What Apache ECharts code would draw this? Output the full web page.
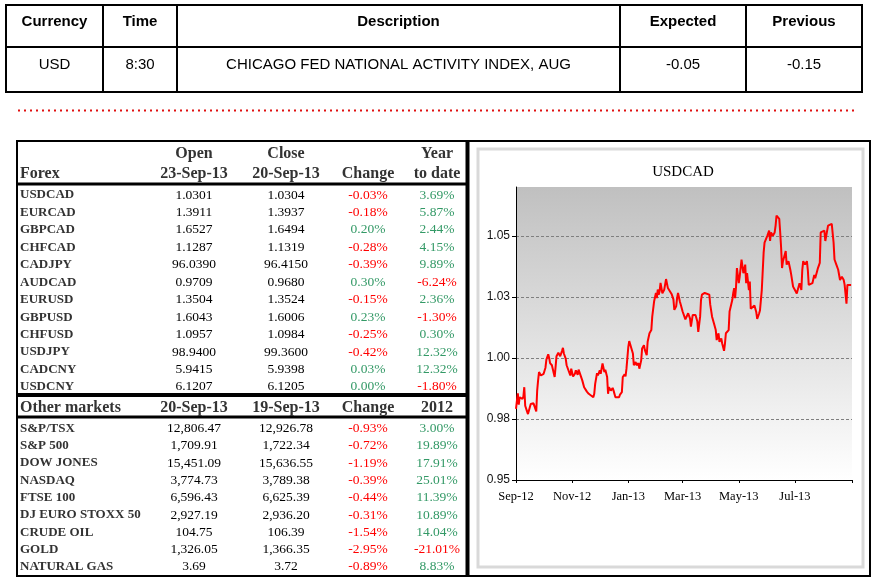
<!DOCTYPE html>
<html>
<head>
<meta charset="utf-8">
<script src="https://cdn.jsdelivr.net/npm/echarts@6/dist/echarts.min.js"></script>
<style>
  html, body { margin: 0; padding: 0; background: #ffffff; }
  #chart { width: 881px; height: 584px; }
</style>
</head>
<body>
<div id="chart"></div>
<script>
// ---------------- DATA ----------------
const topHeaders = ['Currency', 'Time', 'Description', 'Expected', 'Previous'];
const topRow = ['USD', '8:30', 'CHICAGO FED NATIONAL ACTIVITY INDEX, AUG', '-0.05', '-0.15'];

const forexHeader1 = ['', 'Open', 'Close', '', 'Year'];
const forexHeader2 = ['Forex', '23-Sep-13', '20-Sep-13', 'Change', 'to date'];
const forexRows = [
  ['USDCAD', '1.0301', '1.0304', '-0.03%', '3.69%'],
  ['EURCAD', '1.3911', '1.3937', '-0.18%', '5.87%'],
  ['GBPCAD', '1.6527', '1.6494', '0.20%', '2.44%'],
  ['CHFCAD', '1.1287', '1.1319', '-0.28%', '4.15%'],
  ['CADJPY', '96.0390', '96.4150', '-0.39%', '9.89%'],
  ['AUDCAD', '0.9709', '0.9680', '0.30%', '-6.24%'],
  ['EURUSD', '1.3504', '1.3524', '-0.15%', '2.36%'],
  ['GBPUSD', '1.6043', '1.6006', '0.23%', '-1.30%'],
  ['CHFUSD', '1.0957', '1.0984', '-0.25%', '0.30%'],
  ['USDJPY', '98.9400', '99.3600', '-0.42%', '12.32%'],
  ['CADCNY', '5.9415', '5.9398', '0.03%', '12.32%'],
  ['USDCNY', '6.1207', '6.1205', '0.00%', '-1.80%']
];

const otherHeader = ['Other markets', '20-Sep-13', '19-Sep-13', 'Change', '2012'];
const otherRows = [
  ['S&P/TSX', '12,806.47', '12,926.78', '-0.93%', '3.00%'],
  ['S&P 500', '1,709.91', '1,722.34', '-0.72%', '19.89%'],
  ['DOW JONES', '15,451.09', '15,636.55', '-1.19%', '17.91%'],
  ['NASDAQ', '3,774.73', '3,789.38', '-0.39%', '25.01%'],
  ['FTSE 100', '6,596.43', '6,625.39', '-0.44%', '11.39%'],
  ['DJ EURO STOXX 50', '2,927.19', '2,936.20', '-0.31%', '10.89%'],
  ['CRUDE OIL', '104.75', '106.39', '-1.54%', '14.04%'],
  ['GOLD', '1,326.05', '1,366.35', '-2.95%', '-21.01%'],
  ['NATURAL GAS', '3.69', '3.72', '-0.89%', '8.83%']
];

const chartTitle = 'USDCAD';
const xTickDates = ['2012-09-21', '2012-11-21', '2013-01-21', '2013-03-21', '2013-05-21', '2013-07-21', '2013-09-21'];
const xTickLabels = ['Sep-12', 'Nov-12', 'Jan-13', 'Mar-13', 'May-13', 'Jul-13', ''];
const yTickValues = [0.95, 0.975, 1.0, 1.025, 1.05];

const usdcad = [
  ['2012-09-21',0.9791],['2012-09-22',0.9825],['2012-09-23',0.9855],['2012-09-24',0.9809],['2012-09-25',0.9839],
  ['2012-09-26',0.9846],['2012-09-28',0.9832],['2012-09-29',0.9842],['2012-09-30',0.9880],['2012-10-01',0.9804],
  ['2012-10-03',0.9781],['2012-10-04',0.9770],['2012-10-05',0.9773],['2012-10-07',0.9811],['2012-10-08',0.9804],
  ['2012-10-10',0.9814],['2012-10-12',0.9818],['2012-10-13',0.9781],['2012-10-14',0.9866],['2012-10-15',0.9908],
  ['2012-10-16',0.9942],['2012-10-18',0.9928],['2012-10-21',0.9935],['2012-10-23',0.9960],['2012-10-24',0.9993],
  ['2012-10-26',1.0015],['2012-10-27',1.0001],['2012-10-28',0.9979],['2012-10-30',0.9970],['2012-11-01',0.9966],
  ['2012-11-02',0.9922],['2012-11-03',0.9963],['2012-11-04',1.0007],['2012-11-06',1.0021],['2012-11-08',1.0007],
  ['2012-11-10',1.0029],['2012-11-11',1.0041],['2012-11-12',1.0018],['2012-11-14',0.9997],['2012-11-15',0.9970],
  ['2012-11-17',0.9977],['2012-11-19',0.9928],['2012-11-20',0.9956],['2012-11-22',0.9924],['2012-11-24',0.9935],
  ['2012-11-25',0.9949],['2012-11-27',0.9931],['2012-11-28',0.9952],['2012-11-30',0.9952],['2012-12-02',0.9908],
  ['2012-12-04',0.9880],['2012-12-07',0.9862],['2012-12-09',0.9853],['2012-12-11',0.9846],['2012-12-14',0.9839],
  ['2012-12-15',0.9853],['2012-12-16',0.9894],['2012-12-18',0.9938],['2012-12-19',0.9928],['2012-12-21',0.9949],
  ['2012-12-22',0.9935],['2012-12-24',0.9977],['2012-12-26',0.9942],['2012-12-27',0.9952],['2012-12-29',0.9922],
  ['2012-12-30',0.9853],['2012-12-31',0.9880],['2013-01-02',0.9866],['2013-01-04',0.9877],['2013-01-05',0.9866],
  ['2013-01-07',0.9839],['2013-01-08',0.9846],['2013-01-11',0.9839],['2013-01-12',0.9850],['2013-01-14',0.9860],
  ['2013-01-15',0.9922],['2013-01-17',0.9933],['2013-01-18',0.9924],['2013-01-19',0.9956],['2013-01-21',1.0045],
  ['2013-01-22',1.0069],['2013-01-24',1.0066],['2013-01-26',1.0018],['2013-01-27',0.9970],['2013-01-29',0.9983],
  ['2013-01-30',0.9970],['2013-02-01',0.9979],['2013-02-02',0.9956],['2013-02-04',0.9990],['2013-02-05',1.0039],
  ['2013-02-07',1.0052],['2013-02-08',1.0032],['2013-02-10',1.0011],['2013-02-11',1.0066],['2013-02-13',1.0101],
  ['2013-02-15',1.0114],['2013-02-16',1.0169],['2013-02-18',1.0231],['2013-02-20',1.0266],['2013-02-21',1.0245],
  ['2013-02-22',1.0280],['2013-02-23',1.0259],['2013-02-24',1.0273],['2013-02-25',1.0307],['2013-02-27',1.0265],
  ['2013-03-01',1.0279],['2013-03-03',1.0323],['2013-03-05',1.0286],['2013-03-07',1.0279],['2013-03-09',1.0262],
  ['2013-03-11',1.0240],['2013-03-12',1.0197],['2013-03-14',1.0211],['2013-03-15',1.0245],['2013-03-16',1.0266],
  ['2013-03-18',1.0231],['2013-03-19',1.0218],['2013-03-21',1.0190],['2013-03-22',1.0183],['2013-03-24',1.0158],
  ['2013-03-25',1.0162],['2013-03-27',1.0183],['2013-03-29',1.0162],['2013-03-30',1.0128],['2013-04-01',1.0176],
  ['2013-04-02',1.0183],['2013-04-04',1.0176],['2013-04-06',1.0149],['2013-04-07',1.0107],['2013-04-09',1.0169],
  ['2013-04-10',1.0238],['2013-04-11',1.0259],['2013-04-12',1.0266],['2013-04-14',1.0266],['2013-04-16',1.0259],
  ['2013-04-19',1.0259],['2013-04-20',1.0218],['2013-04-22',1.0169],['2013-04-24',1.0142],['2013-04-26',1.0114],
  ['2013-04-27',1.0073],['2013-04-29',1.0101],['2013-04-30',1.0066],['2013-05-02',1.0080],['2013-05-03',1.0059],
  ['2013-05-05',1.0029],['2013-05-06',1.0059],['2013-05-07',1.0101],['2013-05-09',1.0107],['2013-05-10',1.0114],
  ['2013-05-11',1.0190],['2013-05-13',1.0190],['2013-05-14',1.0238],['2013-05-15',1.0266],['2013-05-16',1.0286],
  ['2013-05-17',1.0245],['2013-05-18',1.0290],['2013-05-19',1.0368],['2013-05-21',1.0306],['2013-05-22',1.0333],
  ['2013-05-24',1.0403],['2013-05-26',1.0347],['2013-05-28',1.0382],['2013-05-29',1.0306],['2013-05-30',1.0347],
  ['2013-06-01',1.0278],['2013-06-02',1.0313],['2013-06-03',1.0201],['2013-06-05',1.0194],['2013-06-07',1.0215],
  ['2013-06-09',1.0188],['2013-06-10',1.0160],['2013-06-12',1.0181],['2013-06-13',1.0194],['2013-06-15',1.0278],
  ['2013-06-17',1.0431],['2013-06-18',1.0472],['2013-06-20',1.0479],['2013-06-21',1.0500],['2013-06-23',1.0521],
  ['2013-06-24',1.0479],['2013-06-25',1.0514],['2013-06-26',1.0521],['2013-06-27',1.0500],['2013-06-29',1.0514],
  ['2013-06-30',1.0542],['2013-07-01',1.0583],['2013-07-02',1.0590],['2013-07-04',1.0569],['2013-07-05',1.0514],
  ['2013-07-06',1.0451],['2013-07-07',1.0368],['2013-07-08',1.0396],['2013-07-10',1.0424],['2013-07-11',1.0438],
  ['2013-07-12',1.0382],['2013-07-14',1.0396],['2013-07-16',1.0361],['2013-07-17',1.0340],['2013-07-19',1.0292],
  ['2013-07-21',1.0278],['2013-07-23',1.0264],['2013-07-25',1.0271],['2013-07-26',1.0306],['2013-07-28',1.0278],
  ['2013-07-29',1.0361],['2013-07-30',1.0396],['2013-08-01',1.0382],['2013-08-03',1.0396],['2013-08-04',1.0361],
  ['2013-08-05',1.0299],['2013-08-07',1.0292],['2013-08-09',1.0306],['2013-08-11',1.0340],['2013-08-12',1.0326],
  ['2013-08-14',1.0354],['2013-08-15',1.0368],['2013-08-17',1.0389],['2013-08-18',1.0514],['2013-08-20',1.0507],
  ['2013-08-22',1.0521],['2013-08-23',1.0479],['2013-08-24',1.0500],['2013-08-26',1.0542],['2013-08-28',1.0549],
  ['2013-08-30',1.0549],['2013-09-01',1.0472],['2013-09-02',1.0403],['2013-09-04',1.0382],['2013-09-06',1.0361],
  ['2013-09-08',1.0319],['2013-09-10',1.0333],['2013-09-12',1.0319],['2013-09-13',1.0299],['2013-09-15',1.0222],
  ['2013-09-16',1.0299],['2013-09-18',1.0306],['2013-09-20',1.0299]
];

// ---------------- LAYOUT / DRAWING ----------------
const SANS = "'Liberation Sans', Arial, sans-serif";
const SERIF = "'Liberation Serif', 'Times New Roman', serif";
const RED = '#FF0000';
const GREEN = '#339966';

function txt(text, x, y, font, fill, align) {
  return { type: 'text', x: x, y: y, silent: true,
    style: { text: text, font: font, fill: fill, textAlign: align || 'center', textVerticalAlign: 'middle' } };
}
function ln(x1, y1, x2, y2, w, color, dash) {
  const s = { stroke: color || '#000', lineWidth: w };
  if (dash) s.lineDash = dash;
  return { type: 'line', silent: true, shape: { x1: x1, y1: y1, x2: x2, y2: y2 }, style: s };
}

const g = [];

// Top event table
const topCols = [6, 103, 177, 620, 746, 862];
[5, 47, 92].forEach(y => g.push(ln(5, y, 863, y, 2)));
topCols.forEach(x => g.push(ln(x, 4, x, 93, 2)));
topHeaders.forEach((t, i) => {
  const cx = (topCols[i] + topCols[i + 1]) / 2;
  g.push(txt(t, cx, 22, 'bold 15px ' + SANS, '#000'));
});
topRow.forEach((t, i) => {
  const cx = (topCols[i] + topCols[i + 1]) / 2;
  g.push(txt(t, cx, 65, '15px ' + SANS, '#000'));
});

// red dotted separator
g.push(ln(18, 110.5, 856, 110.5, 2, '#E01010', [2, 4]));

// Frame of lower panel
g.push(ln(16, 141, 871, 141, 2));
g.push(ln(17, 140, 17, 577, 2));
g.push(ln(16, 576, 871, 576, 2));
g.push(ln(870, 140, 870, 577, 2));
g.push(ln(467.5, 140, 467.5, 577, 4));
g.push(ln(17, 184, 467, 184, 3));
g.push(ln(17, 395, 467, 395, 4));
g.push(ln(17, 417, 467, 417, 3));

// chart inner frame
g.push({ type: 'rect', silent: true, shape: { x: 478, y: 149, width: 385, height: 418 },
  style: { fill: 'none', stroke: '#D9D9D9', lineWidth: 3 } });
g.push(txt(chartTitle, 683, 172, '15px ' + SERIF, '#000'));

// Left table
const colX = [20, 194, 286, 368, 437];
const HFONT = 'bold 16px ' + SERIF;
const LFONT = 'bold 13px ' + SERIF;
const NFONT = '13.5px ' + SERIF;
function pctColor(s) { return s.charAt(0) === '-' ? RED : GREEN; }

forexHeader1.forEach((t, i) => { if (t) g.push(txt(t, colX[i], 154, HFONT, '#333', i === 0 ? 'left' : 'center')); });
forexHeader2.forEach((t, i) => g.push(txt(t, colX[i], 174, HFONT, '#333', i === 0 ? 'left' : 'center')));
forexRows.forEach((r, k) => {
  const y = 195 + k * 17.45;
  r.forEach((t, i) => {
    if (i === 0) g.push(txt(t, colX[0], y, LFONT, '#333', 'left'));
    else if (i < 3) g.push(txt(t, colX[i], y, NFONT, '#000'));
    else g.push(txt(t, colX[i], y, NFONT, pctColor(t)));
  });
});
otherHeader.forEach((t, i) => g.push(txt(t, colX[i], 408, HFONT, '#333', i === 0 ? 'left' : 'center')));
otherRows.forEach((r, k) => {
  const y = 428.5 + k * 17.3;
  r.forEach((t, i) => {
    if (i === 0) g.push(txt(t, colX[0], y, LFONT, '#333', 'left'));
    else if (i < 3) g.push(txt(t, colX[i], y, NFONT, '#000'));
    else g.push(txt(t, colX[i], y, NFONT, pctColor(t)));
  });
});

// ---------------- CHART ----------------
const toTime = d => echarts.number.parseDate(d).getTime();
const xTickTimes = xTickDates.map(toTime);
const lineData = usdcad.map(p => [toTime(p[0]), p[1]]);

const chart = echarts.init(document.getElementById('chart'));
chart.setOption({
  animation: false,
  backgroundColor: '#ffffff',
  graphic: { elements: g },
  grid: {
    left: 516, top: 187, width: 336, height: 293, show: true, borderWidth: 0,
    backgroundColor: new echarts.graphic.LinearGradient(0, 0, 0, 1, [
      { offset: 0, color: '#C0C0C0' }, { offset: 1, color: '#FFFFFF' }
    ])
  },
  xAxis: {
    type: 'value',
    min: xTickTimes[0], max: xTickTimes[xTickTimes.length - 1],
    axisLine: { show: true, onZero: false, lineStyle: { color: '#000', width: 1 } },
    axisTick: { show: true, length: 3, customValues: xTickTimes, lineStyle: { color: '#000' } },
    axisLabel: {
      customValues: xTickTimes.slice(0, xTickLabels.length - 1),
      margin: 10, color: '#000', fontFamily: SERIF, fontSize: 12.5,
      formatter: function (v) {
        const i = xTickTimes.findIndex(t => Math.abs(t - v) < 43200000);
        return i >= 0 ? xTickLabels[i] : '';
      }
    },
    splitLine: { show: false }
  },
  yAxis: {
    type: 'value', min: 0.95, max: 1.07, interval: 0.025,
    axisLine: { show: true, lineStyle: { color: '#000', width: 1 } },
    axisTick: { show: true, length: 4, customValues: yTickValues, lineStyle: { color: '#000' } },
    axisLabel: {
      customValues: yTickValues, margin: 6, color: '#111', fontFamily: SANS, fontSize: 12,
      formatter: function (v) { return (Math.round(v * 100 + 1e-6) / 100).toFixed(2); }
    },
    splitLine: { show: true, lineStyle: { color: '#7F7F7F', width: 1, type: [3, 2] } }
  },
  series: [{
    type: 'line', data: lineData, showSymbol: false, symbol: 'none',
    lineStyle: { color: RED, width: 2 }, itemStyle: { color: RED }, z: 5
  }]
});
</script>
</body>
</html>
